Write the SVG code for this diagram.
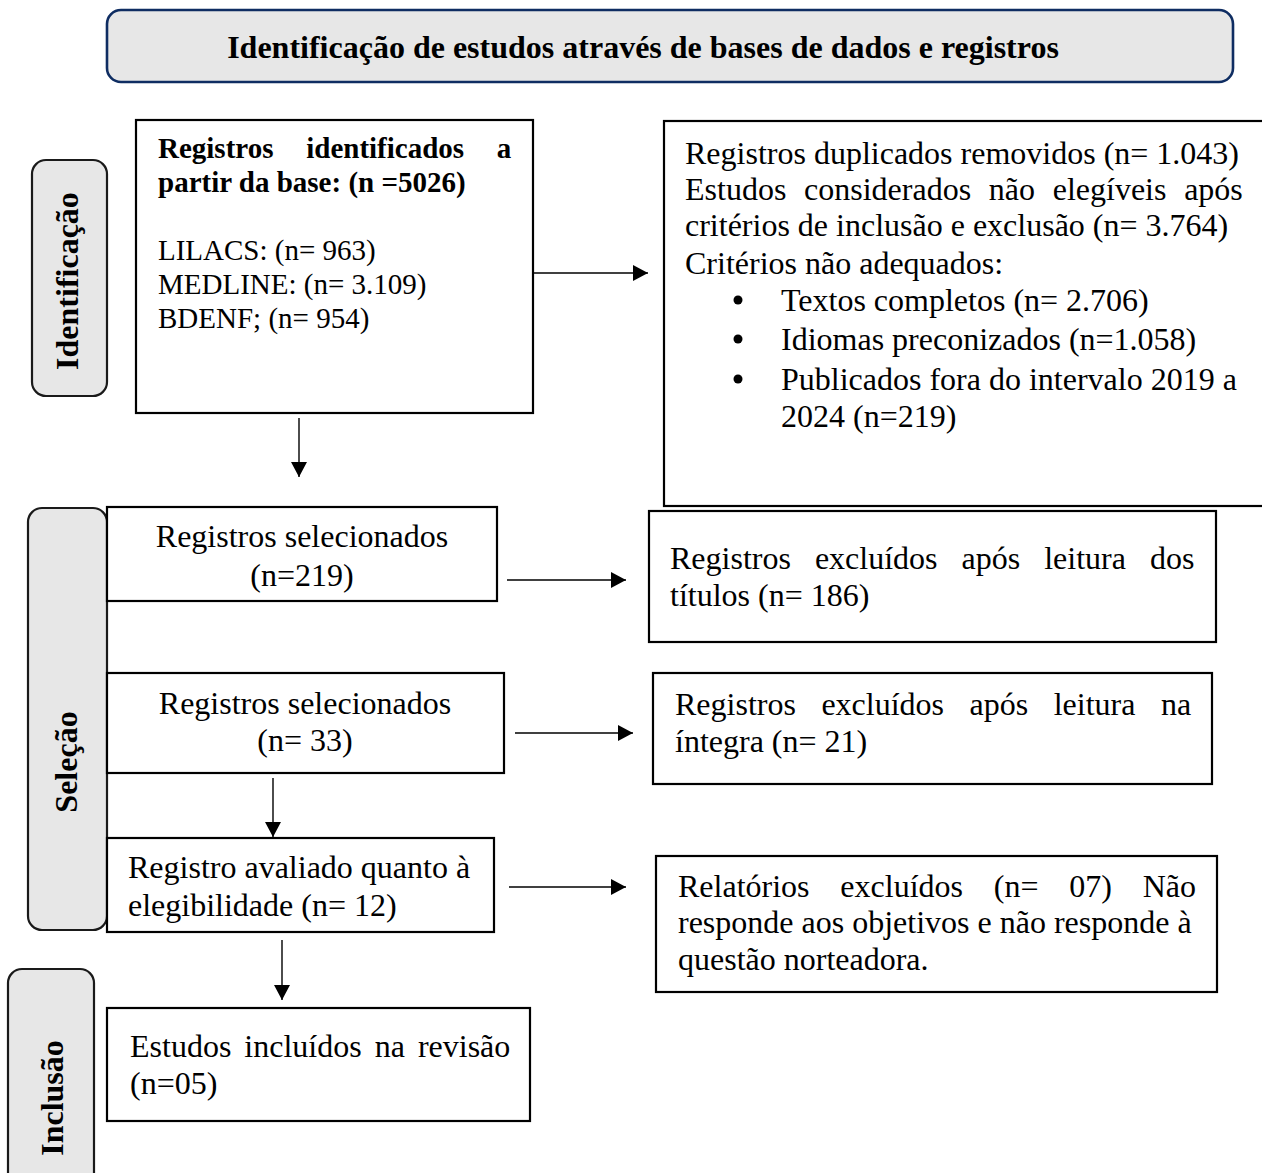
<svg xmlns="http://www.w3.org/2000/svg" width="1262" height="1173" viewBox="0 0 1262 1173">
<style>
.t{font-family:"Liberation Serif","Times New Roman",serif;font-size:32px;fill:#000}
.s{font-size:29px}
.b{font-weight:bold}
.box{fill:#fff;stroke:#000;stroke-width:2.2}
.lab{fill:#e7e7e7;stroke:#1a1a1a;stroke-width:2.2}
.con{stroke:#000;stroke-width:1.4;fill:none;marker-end:url(#ah)}
</style>
<defs>
<marker id="ah" markerUnits="userSpaceOnUse" markerWidth="16" markerHeight="16" refX="15" refY="8" orient="auto">
<path d="M0,0 L15,8 L0,16 z" fill="#000"/>
</marker>
</defs>
<rect width="1262" height="1173" fill="#fff"/>

<g id="header">
<rect x="107" y="10" width="1126" height="72" rx="14" fill="#e7e7e7" stroke="#0f2d62" stroke-width="2.6"/>
<text class="t b" x="643" y="58" text-anchor="middle">Identificação de estudos através de bases de dados e registros</text>
</g>

<g id="label-identificacao">
<rect class="lab" x="32" y="160" width="75" height="236" rx="14"/>
<text class="t b" transform="translate(78,281) rotate(-90)" text-anchor="middle">Identificação</text>
</g>
<g id="label-selecao">
<rect class="lab" x="28" y="508" width="79" height="422" rx="14"/>
<text class="t b" transform="translate(77,762) rotate(-90)" text-anchor="middle">Seleção</text>
</g>
<g id="label-inclusao">
<rect class="lab" x="8" y="969" width="86" height="230" rx="14"/>
<text class="t b" transform="translate(63,1098) rotate(-90)" text-anchor="middle">Inclusão</text>
</g>

<g id="n-identificados">
<rect class="box" x="136" y="120" width="397" height="293"/>
<text class="t s b" x="158" y="158" word-spacing="25.5">Registros identificados a</text>
<text class="t s b" x="158" y="192">partir da base: (n =5026)</text>
<text class="t s" x="158" y="260">LILACS: (n= 963)</text>
<text class="t s" x="158" y="294">MEDLINE: (n= 3.109)</text>
<text class="t s" x="158" y="328">BDENF; (n= 954)</text>
</g>

<g id="n-removidos">
<rect class="box" x="664" y="121" width="610" height="385"/>
<text class="t" x="685" y="164">Registros duplicados removidos (n= 1.043)</text>
<text class="t" x="685" y="200" word-spacing="9.7">Estudos considerados não elegíveis após</text>
<text class="t" x="685" y="236">critérios de inclusão e exclusão (n= 3.764)</text>
<text class="t" x="685" y="274">Critérios não adequados:</text>
<circle cx="738" cy="300" r="4.5" fill="#000"/>
<text class="t" x="781" y="311">Textos completos (n= 2.706)</text>
<circle cx="738" cy="339" r="4.5" fill="#000"/>
<text class="t" x="781" y="350">Idiomas preconizados (n=1.058)</text>
<circle cx="738" cy="379" r="4.5" fill="#000"/>
<text class="t" x="781" y="390">Publicados fora do intervalo 2019 a</text>
<text class="t" x="781" y="427">2024 (n=219)</text>
</g>

<g id="n-selecionados-219">
<rect class="box" x="107" y="507" width="390" height="94"/>
<text class="t" x="302" y="547" text-anchor="middle">Registros selecionados</text>
<text class="t" x="302" y="586" text-anchor="middle">(n=219)</text>
</g>

<g id="n-excluidos-titulos">
<rect class="box" x="649" y="511" width="567" height="131"/>
<text class="t" x="670" y="569" word-spacing="16">Registros excluídos após leitura dos</text>
<text class="t" x="670" y="606">títulos (n= 186)</text>
</g>

<g id="n-selecionados-33">
<rect class="box" x="107" y="673" width="397" height="100"/>
<text class="t" x="305" y="714" text-anchor="middle">Registros selecionados</text>
<text class="t" x="305" y="751" text-anchor="middle">(n= 33)</text>
</g>

<g id="n-excluidos-integra">
<rect class="box" x="653" y="673" width="559" height="111"/>
<text class="t" x="675" y="715" word-spacing="17.5">Registros excluídos após leitura na</text>
<text class="t" x="675" y="752">íntegra (n= 21)</text>
</g>

<g id="n-avaliado">
<rect class="box" x="107" y="838" width="387" height="94"/>
<text class="t" x="128" y="878">Registro avaliado quanto à</text>
<text class="t" x="128" y="916">elegibilidade (n= 12)</text>
</g>

<g id="n-relatorios">
<rect class="box" x="656" y="856" width="561" height="136"/>
<text class="t" x="678" y="897" word-spacing="22.8">Relatórios excluídos (n= 07) Não</text>
<text class="t" x="678" y="933">responde aos objetivos e não responde à</text>
<text class="t" x="678" y="970">questão norteadora.</text>
</g>

<g id="n-incluidos">
<rect class="box" x="107" y="1008" width="423" height="113"/>
<text class="t" x="130" y="1057" word-spacing="5">Estudos incluídos na revisão</text>
<text class="t" x="130" y="1094">(n=05)</text>
</g>

<g id="connectors">
<line class="con" x1="534" y1="273" x2="648" y2="273"/>
<line class="con" x1="299" y1="418" x2="299" y2="477"/>
<line class="con" x1="507" y1="580" x2="626" y2="580"/>
<line class="con" x1="515" y1="733" x2="633" y2="733"/>
<line class="con" x1="273" y1="778" x2="273" y2="837"/>
<line class="con" x1="509" y1="887" x2="626" y2="887"/>
<line class="con" x1="282" y1="940" x2="282" y2="1000"/>
</g>
</svg>
